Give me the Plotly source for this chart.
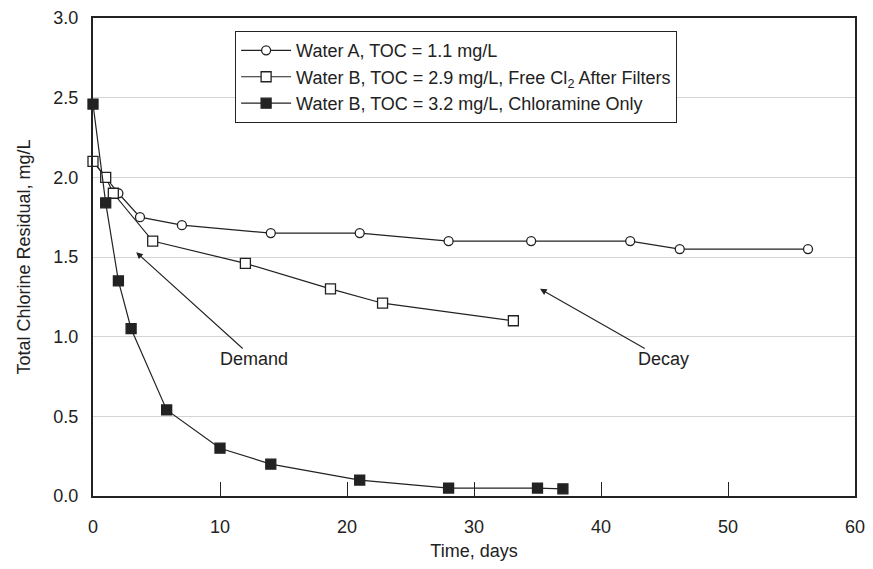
import plotly.graph_objects as go

# Chlorine residual measurements (days, mg/L)
days_a = [0, 1, 2, 3.7, 7, 14, 21, 28, 34.5, 42.3, 46.2, 56.3]
resid_a = [2.1, 2.0, 1.9, 1.75, 1.7, 1.65, 1.65, 1.6, 1.6, 1.6, 1.55, 1.55]

days_b_free = [0, 1, 1.6, 4.7, 12, 18.7, 22.8, 33.1]
resid_b_free = [2.1, 2.0, 1.9, 1.6, 1.46, 1.3, 1.21, 1.1]

days_b_nh2cl = [0, 1, 2, 3, 5.8, 10, 14, 21, 28, 35, 37]
resid_b_nh2cl = [2.46, 1.84, 1.35, 1.05, 0.54, 0.30, 0.20, 0.10, 0.05, 0.05, 0.045]

names = [
    "Water A, TOC = 1.1 mg/L",
    "Water B, TOC = 2.9 mg/L, Free Cl<sub>2</sub> After Filters",
    "Water B, TOC = 3.2 mg/L, Chloramine Only",
]

x_ticks = [0, 10, 20, 30, 40, 50, 60]
y_ticks = [0.0, 0.5, 1.0, 1.5, 2.0, 2.5, 3.0]

INK = "#222222"
FONT = "Liberation Sans, Arial, sans-serif"
FS = 18

fig = go.Figure()
series = [
    (days_a, resid_a, "circle", "white", 9),
    (days_b_free, resid_b_free, "square", "white", 10),
    (days_b_nh2cl, resid_b_nh2cl, "square", INK, 10),
]
for (xs, ys, sym, fill, sz), nm in zip(series, names):
    fig.add_trace(go.Scatter(
        x=xs, y=ys, name=nm, mode="lines+markers",
        line=dict(color=INK, width=1.2),
        marker=dict(symbol=sym, size=sz, color=fill,
                    line=dict(color=INK, width=1.3)),
        cliponaxis=False,
    ))

# Labelled arrows: text sits at (ax, ay), arrow head at (x, y)
for label, head, text_at in [("Demand", (3.4, 1.53), (12.7, 0.86)),
                             ("Decay", (35.2, 1.30), (44.9, 0.86))]:
    fig.add_annotation(x=head[0], y=head[1], ax=text_at[0], ay=text_at[1],
                       xref="x", yref="y", axref="x", ayref="y",
                       text=label, showarrow=True, arrowhead=2, arrowsize=1.2,
                       arrowwidth=1.1, arrowcolor=INK, borderpad=0,
                       font=dict(size=FS, color=INK, family=FONT))

fig.update_layout(
    width=873, height=569,
    margin=dict(l=93, r=8, t=16, b=73),
    paper_bgcolor="white", plot_bgcolor="white",
    font=dict(family=FONT, size=FS, color=INK),
    showlegend=True,
    legend=dict(x=0.1865, y=0.9725, xanchor="left", yanchor="top",
                bgcolor="white", bordercolor=INK, borderwidth=1,
                itemwidth=50,
                font=dict(size=FS, color=INK, family=FONT)),
    xaxis=dict(range=[0, 60], tickvals=x_ticks, ticktext=[str(v) for v in x_ticks],
               showgrid=False, zeroline=False, showline=True, mirror=True,
               linecolor=INK, linewidth=2, ticks="inside", ticklen=14,
               tickcolor=INK, tickwidth=1, ticklabelstandoff=13,
               ticklabeloverflow="allow",
               tickfont=dict(size=FS),
               title=dict(text="Time, days", standoff=9, font=dict(size=FS))),
    yaxis=dict(range=[0, 3], tickvals=y_ticks, ticktext=[f"{v:.1f}" for v in y_ticks],
               showgrid=True, gridcolor="#d4d4d4", gridwidth=1, zeroline=False,
               showline=True, mirror=True, linecolor=INK, linewidth=2,
               ticks="", ticklabelstandoff=9, ticklabeloverflow="allow",
               tickfont=dict(size=FS),
               title=dict(text="Total Chlorine Residual, mg/L", standoff=18,
                          font=dict(size=FS))),
)

fig.write_html("out.html")
